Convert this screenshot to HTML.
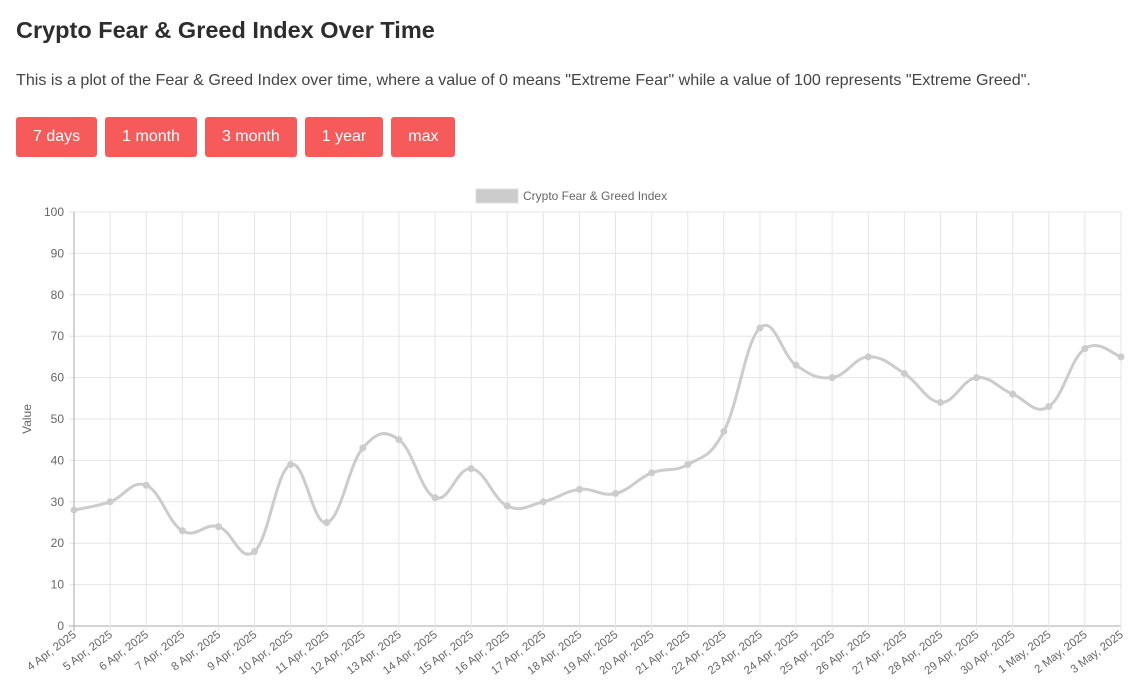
<!DOCTYPE html>
<html><head><meta charset="utf-8"><style>
body{margin:0;background:#fff;font-family:"Liberation Sans",sans-serif;color:#333;width:1146px;height:694px;overflow:hidden;position:relative}
h1{position:absolute;left:16px;top:17px;margin:0;font-size:23.5px;font-weight:bold;color:#2d2d2d}
p{position:absolute;left:16px;top:71px;margin:0;font-size:16.1px;color:#444}
.btns{position:absolute;left:16px;top:117px;display:flex;gap:8px}
.btn{background:#f75a5a;color:#fff;border-radius:3px;height:40px;line-height:40px;font-size:16px;text-align:center;padding:0 17px}
svg{position:absolute;left:0;top:0}
</style></head><body>
<h1>Crypto Fear &amp; Greed Index Over Time</h1>
<p>This is a plot of the Fear &amp; Greed Index over time, where a value of 0 means "Extreme Fear" while a value of 100 represents "Extreme Greed".</p>
<div class="btns">
<div class="btn">7 days</div>
<div class="btn">1 month</div>
<div class="btn">3 month</div>
<div class="btn">1 year</div>
<div class="btn">max</div>
</div>
<svg id="c" width="1146" height="694"></svg>
<script>
const labels=["4 Apr, 2025","5 Apr, 2025","6 Apr, 2025","7 Apr, 2025","8 Apr, 2025","9 Apr, 2025","10 Apr, 2025","11 Apr, 2025","12 Apr, 2025","13 Apr, 2025","14 Apr, 2025","15 Apr, 2025","16 Apr, 2025","17 Apr, 2025","18 Apr, 2025","19 Apr, 2025","20 Apr, 2025","21 Apr, 2025","22 Apr, 2025","23 Apr, 2025","24 Apr, 2025","25 Apr, 2025","26 Apr, 2025","27 Apr, 2025","28 Apr, 2025","29 Apr, 2025","30 Apr, 2025","1 May, 2025","2 May, 2025","3 May, 2025"];
const values=[28,30,34,23,24,18,39,25,43,45,31,38,29,30,33,32,37,39,47,72,63,60,65,61,54,60,56,53,67,65];
const yTicks=[0,10,20,30,40,50,60,70,80,90,100];
const L=74,R=1121,T=212,B=626,NS="http://www.w3.org/2000/svg";
const svg=document.getElementById('c');
const xs=i=>L+(R-L)*i/(labels.length-1);
const ys=v=>B-(B-T)*v/100;
function mk(t,a,txt){const e=document.createElementNS(NS,t);for(const k in a)e.setAttribute(k,a[k]);if(txt!=null)e.textContent=txt;svg.appendChild(e);return e;}
yTicks.forEach(v=>{
 const g=mk('line',{x1:69,x2:R,y1:ys(v),y2:ys(v),stroke:v===0?'#aaa':'#e5e5e5'});
 
 
 const t=mk('text',{x:64,y:ys(v)+4,'text-anchor':'end','font-size':12,fill:'#666'},v);
 
 
});
labels.forEach((s,i)=>{
 const x=xs(i);
 const g=mk('line',{x1:x,x2:x,y1:T,y2:B+5,stroke:i===0?'#aaa':'#e5e5e5'});
 
 
 const t=mk('text',{x:0,y:0,'text-anchor':'end','font-size':11.5,fill:'#666',transform:`translate(${x+3},${B+10}) rotate(-37)`},s);
 
 
});
const yt=mk('text',{x:0,y:0,'text-anchor':'middle','font-size':12,fill:'#666',transform:`translate(31,${(T+B)/2}) rotate(-90)`},'Value');


const lb=mk('rect',{x:476,y:189,width:42,height:14,fill:'#ccc',stroke:'#ddd'});


const lt=mk('text',{x:523,y:200,'font-size':12,fill:'#666'},'Crypto Fear & Greed Index');


const P=values.map((v,i)=>[xs(i),ys(v)]);
let d=`M${P[0][0]},${P[0][1]}`;const k=0.4/2;
for(let i=0;i<P.length-1;i++){
 const p0=P[i-1]||P[i],p1=P[i],p2=P[i+1],p3=P[i+2]||p2;
 d+=` C${p1[0]+(p2[0]-p0[0])*k},${p1[1]+(p2[1]-p0[1])*k} ${p2[0]-(p3[0]-p1[0])*k},${p2[1]-(p3[1]-p1[1])*k} ${p2[0]},${p2[1]}`;
}
const ln=mk('path',{d,fill:'none',stroke:'#ccc','stroke-width':3});


P.forEach(p=>{
 const c=mk('circle',{cx:p[0],cy:p[1],r:3.5,fill:'#ccc'});
 
 
});
</script>
</body></html>
